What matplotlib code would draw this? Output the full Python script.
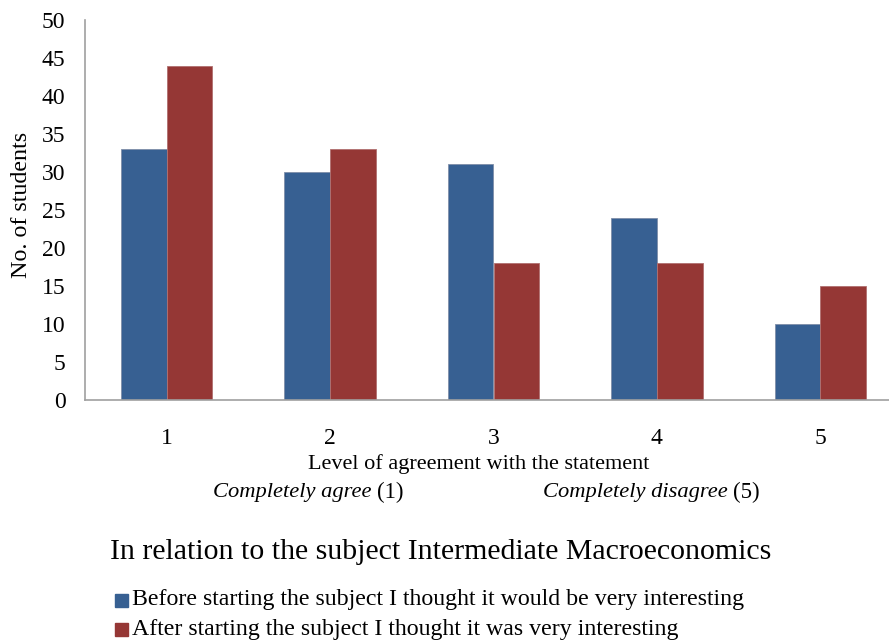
import matplotlib.pyplot as plt
import numpy as np
from matplotlib.patches import Rectangle

plt.rcParams['font.family'] = ['Liberation Serif', 'DejaVu Serif']

levels = ['1', '2', '3', '4', '5']
before = [33, 30, 31, 24, 10]
after = [44, 33, 18, 18, 15]
series_labels = ['Before starting the subject I thought it would be very interesting',
                 'After starting the subject I thought it was very interesting']
yticks = [0, 5, 10, 15, 20, 25, 30, 35, 40, 45, 50]

blue = '#376092'
red = '#953735'

W, H = 889, 643
fig = plt.figure(figsize=(W / 100, H / 100), dpi=100)
# axes spans x 85..902 px, y 20..400 px (from top)
ax = fig.add_axes([85 / W, 1 - 400 / H, (902 - 85) / W, (400 - 20) / H])

x = np.arange(len(levels))
bw = 0.28
ax.bar(x - bw / 2, before, bw, color=blue, edgecolor='#7f8ea8', linewidth=0.6)
ax.bar(x + bw / 2, after, bw, color=red, edgecolor='#b07070', linewidth=0.6)

ax.set_xlim(-0.5, len(levels) - 0.5)
ax.set_ylim(0, 50)
ax.set_yticks(yticks)
ax.set_xticks(x)
ax.set_xticklabels(levels)
ax.tick_params(axis='both', length=0, labelsize=17)
ax.tick_params(axis='x', pad=20)
ax.tick_params(axis='y', pad=14)
for s in ['top', 'right']:
    ax.spines[s].set_visible(False)
for s in ['left', 'bottom']:
    ax.spines[s].set_color('#a0a0a0')
    ax.spines[s].set_linewidth(1.2)

fig.text(22 / W, 1 - 205 / H, 'No. of students', fontsize=17.3, rotation=90,
         ha='center', va='center')

fig.text(479 / W, 1 - 464 / H, 'Level of agreement with the statement',
         fontsize=16, ha='center', va='center')

fig.canvas.draw()
renderer = fig.canvas.get_renderer()


def italic_then_plain(x0, y0, italic, plain):
    t = fig.text(x0 / W, 1 - y0 / H, italic, fontsize=16.2, style='italic',
                 ha='left', va='center')
    bb = t.get_window_extent(renderer=renderer)
    fig.text((bb.x1 + 5) / W, 1 - y0 / H, plain, fontsize=16.5,
             ha='left', va='center')


italic_then_plain(213, 492, 'Completely agree', '(1)')
italic_then_plain(543, 492, 'Completely disagree', '(5)')

fig.text(110 / W, 1 - 552 / H, 'In relation to the subject Intermediate Macroeconomics',
         fontsize=21.5, ha='left', va='center')

for i, (lab, col) in enumerate(zip(series_labels, [blue, red])):
    yc = 600 + i * 29
    fig.patches.append(Rectangle((115 / W, 1 - (yc + 7) / H), 13 / W, 13 / H,
                                 transform=fig.transFigure, color=col))
    fig.text(132 / W, 1 - yc / H, lab, fontsize=17.2, ha='left', va='center')

fig.savefig('out.png', dpi=100)
